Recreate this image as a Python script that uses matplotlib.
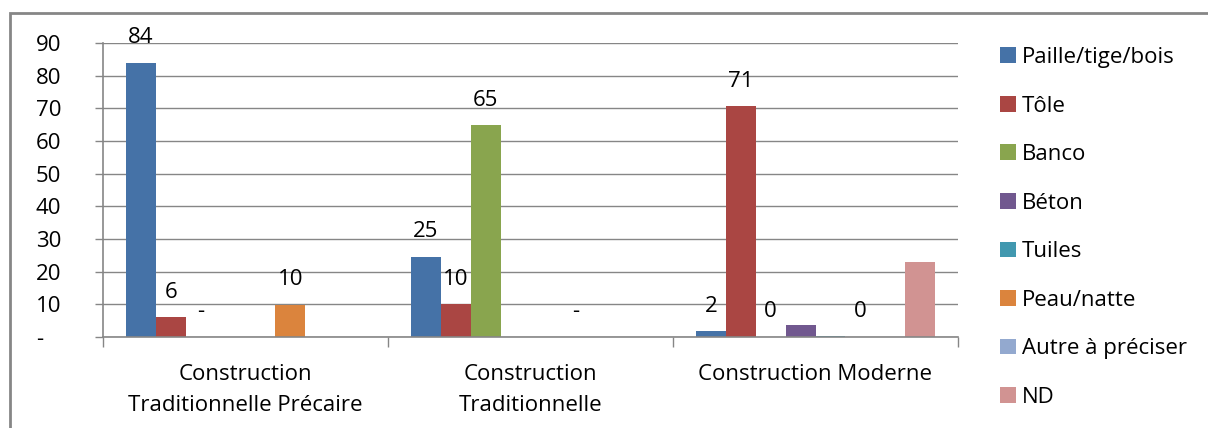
import matplotlib
matplotlib.use("Agg")
import matplotlib.pyplot as plt
from matplotlib.patches import Rectangle
import numpy as np

plt.rcParams['font.family'] = ['Open Sans', 'DejaVu Sans']

groups = ["Construction\nTraditionnelle Précaire", "Construction\nTraditionnelle", "Construction Moderne"]
series = ["Paille/tige/bois", "Tôle", "Banco", "Béton", "Tuiles", "Peau/natte", "Autre à préciser", "ND"]
colors = ["#4572A7", "#AA4643", "#89A54E", "#71588F", "#4198AF", "#DB843D", "#93A9CF", "#D19392"]

# one list per series, values for the 3 groups
paille = [84, 24.6, 1.8]
tole = [6, 10, 70.6]
banco = [0, 64.8, 0.1]
beton = [0, 0, 3.7]
tuiles = [0, 0, 0.4]
peau = [9.8, 0, 0.1]
autre = [0, 0, 0]
nd = [0, 0, 23]
values = [paille, tole, banco, beton, tuiles, peau, autre, nd]
# only these series carry data labels in the original
labelled = ["Paille/tige/bois", "Tôle", "Banco", "Peau/natte"]

yticks = [0, 10, 20, 30, 40, 50, 60, 70, 80, 90]
ytick_labels = ["-   "] + [str(t) for t in yticks[1:]]

fig = plt.figure(figsize=(12.08, 4.28), dpi=100)
ax = fig.add_axes([103/1208, 1-337/428, 855/1208, 294/428])

gray = "#868686"
fs = 16
x = np.arange(len(groups))
w = 0.105
for i, (name, vals, c) in enumerate(zip(series, values, colors)):
    xs = x + (i - 3.5) * w
    ax.bar(xs, vals, width=w, color=c, label=name, zorder=2)
    if name in labelled:
        for xi, v in zip(xs, vals):
            lab = "-" if v == 0 else str(int(round(v)))
            ax.annotate(lab, (xi, v), xytext=(0, 10.5), textcoords="offset points",
                        ha="center", va="bottom", fontsize=fs, zorder=2)

ax.set_xlim(-0.5, 2.5)
ax.set_ylim(0, 90)
ax.set_yticks(yticks)
ax.set_yticklabels(ytick_labels)
ax.set_xticks([-0.5, 0.5, 1.5, 2.5])
ax.set_xticklabels([])
ax.set_xticks(x, minor=True)
ax.set_xticklabels(groups, minor=True, linespacing=1.6)
ax.tick_params(axis="x", which="major", length=7, color=gray, width=1)
ax.tick_params(axis="x", which="minor", length=0, pad=19.5, labelsize=fs)
ax.tick_params(axis="y", length=6, color=gray, width=1, pad=24, labelsize=fs)
ax.yaxis.grid(True, color=gray, linewidth=1)
ax.set_axisbelow(True)
for s in ["top", "right"]:
    ax.spines[s].set_visible(False)
for s in ["left", "bottom"]:
    ax.spines[s].set_color(gray)
    ax.spines[s].set_linewidth(1.2)

leg = ax.legend(loc="upper left", bbox_to_anchor=(1000/1208, 1-47/428), bbox_transform=fig.transFigure,
                frameon=False, fontsize=fs, handlelength=0.72, handleheight=0.72,
                handletextpad=0.28, labelspacing=1.24, borderaxespad=0, borderpad=0)

fig.patches.append(Rectangle((10/1208, -0.2), 1.5, 1.2 - 13/428, transform=fig.transFigure,
                             fill=False, edgecolor=gray, linewidth=2))

fig.savefig("out.png", dpi=100)
